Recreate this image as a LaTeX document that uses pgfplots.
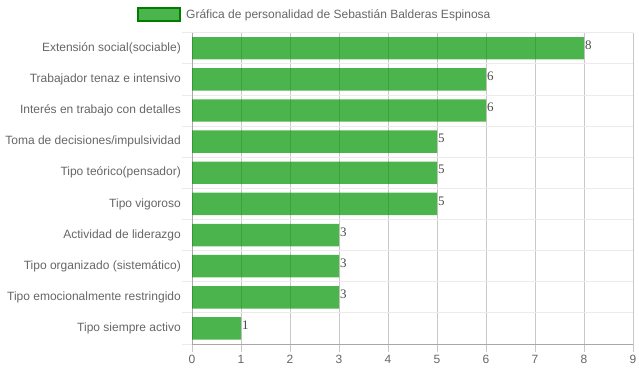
\documentclass[border=0pt]{standalone}
\usepackage{fontspec}
\setmainfont{Liberation Sans}
\newfontfamily\serifnum{Liberation Serif}
\usepackage{pgfplots}
\pgfplotsset{compat=1.18}
\definecolor{bargreen}{RGB}{0,148,0}
\definecolor{legborder}{RGB}{0,125,0}
\definecolor{labgray}{HTML}{666666}
\definecolor{vgrid}{HTML}{C8C8C8}
\definecolor{hgrid}{HTML}{EBEBEB}
\definecolor{axgray}{HTML}{A8A8A8}
\begin{document}
\begin{tikzpicture}
\begin{axis}[
  name=ax,
  scale only axis, width=441pt, height=311.3pt,
  xbar, bar width=0.72,
  xmin=0, xmax=9, ymin=0.5, ymax=10.5, y dir=reverse,
  axis lines=left, axis line style={-, axgray, line width=0.8pt},
  xtick={0,...,9},
  ytick={1,...,10},
  yticklabels={Extensión social(sociable),Trabajador tenaz e intensivo,Interés en trabajo con detalles,Toma de decisiones/impulsividad,Tipo teórico(pensador),Tipo vigoroso,Actividad de liderazgo,Tipo organizado (sistemático),Tipo emocionalmente restringido,Tipo siempre activo},
  minor ytick={0.5,1.5,...,10.5},
  xmajorgrids, yminorgrids,
  major x grid style={vgrid, line width=0.8pt},
  minor y grid style={hgrid, line width=0.8pt},
  tick align=outside,
  major tick length=8pt, minor tick length=10pt,
  every major x tick/.style={vgrid, line width=0.8pt},
  every major y tick/.style={draw=none},
  every minor y tick/.style={hgrid, line width=0.8pt},
  tick label style={font=\fontsize{12}{14}\selectfont, text=labgray, inner sep=0pt},
  yticklabel style={xshift=-3pt},
  xticklabel style={yshift=-3pt},
  /pgf/number format/assume math mode=true,
  nodes near coords,
  every node near coord/.append style={font=\serifnum\fontsize{13}{13}\selectfont, text=black, anchor=west, inner sep=1pt, yshift=3pt},
  legend style={at={(axis description cs:-0.1247,1.0569)}, anchor=west, draw=none, fill=none, inner sep=0pt,
    font=\fontsize{12}{14}\selectfont, text=labgray, nodes={inner sep=0pt}},
  legend image code/.code={\draw[fill=bargreen, fill opacity=0.7, draw=legborder, line width=2pt] (1pt,-6.5pt) rectangle (43pt,6.5pt); \path (49pt,0pt);},
]
\addplot[fill=bargreen, fill opacity=0.7, draw=none] coordinates {
  (8,1) (6,2) (6,3) (5,4) (5,5) (5,6) (3,7) (3,8) (3,9) (1,10)
};
\addlegendentry{Gráfica de personalidad de Sebastián Balderas Espinosa}
\end{axis}
\pgfresetboundingbox
\path ([xshift=-192pt,yshift=-28pt]ax.south west) rectangle ([xshift=6pt,yshift=32.7pt]ax.north east);
\end{tikzpicture}
\end{document}
